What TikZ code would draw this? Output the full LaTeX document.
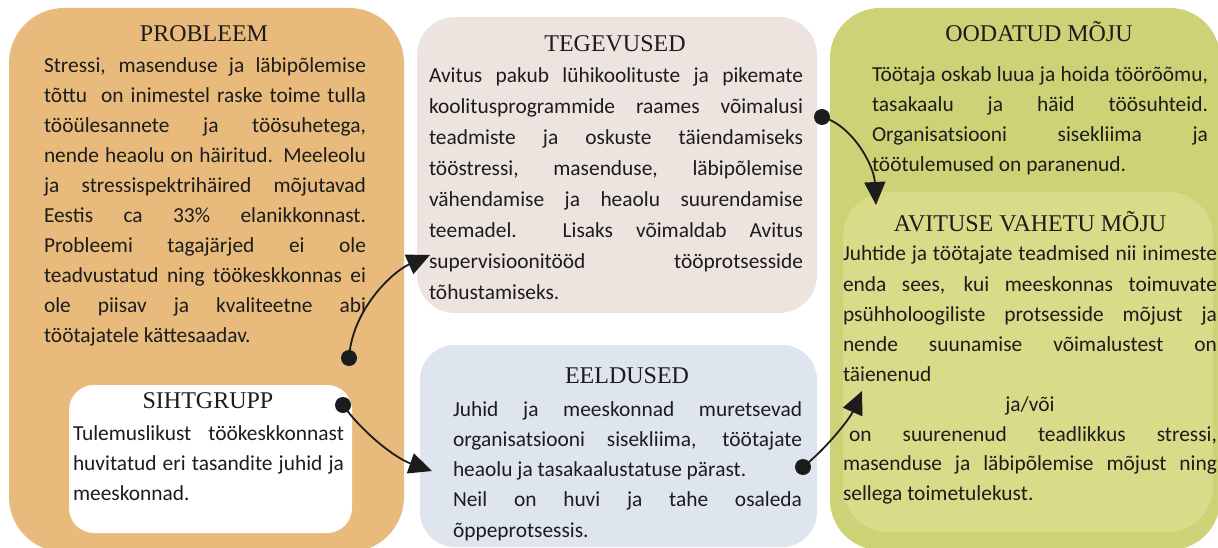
\documentclass[tikz,border=0pt]{standalone}
\usepackage{fontspec}
\setmainfont{Liberation Serif}
\newfontfamily\bodyfont{Carlito}
\usetikzlibrary{arrows.meta}
\definecolor{probc}{HTML}{E8BB7C}
\definecolor{tegc}{HTML}{EDE4E0}
\definecolor{eelc}{HTML}{DEE5EF}
\definecolor{oodc}{HTML}{CED276}
\definecolor{avic}{HTML}{D9DB89}
\definecolor{inkc}{HTML}{1C1C1C}
\newcommand\jline[1]{\hbox to\linewidth{#1}}
\newcommand\lline[1]{\hbox{#1}}
\newcommand\centline[1]{\hbox to\linewidth{\hfil#1\hfil}}
\newcommand\txtblock[3]{\parbox[t]{#1}{\bodyfont\fontsize{21.4}{#2}\selectfont#3}}
\begin{document}
\begin{tikzpicture}[x=1pt,y=-1pt,
  rbox/.style={draw=none, inner sep=0pt, outer sep=0pt},
  head/.style={inner sep=0pt, outer sep=0pt, anchor=base, text=inkc, font=\fontsize{24}{28}\selectfont},
  txt/.style={inner sep=0pt, outer sep=0pt, anchor=base west, text=inkc},
  dot/.style={circle, fill=inkc, minimum size=16pt, inner sep=0pt, outer sep=0pt},
  conn/.style={draw=inkc, line width=1.8pt, -{Triangle[length=23pt,width=21pt]}}]
\useasboundingbox (0,0) rectangle (1218,548);
% boxes
\node[rbox, fill=probc, minimum width=395pt, minimum height=544pt, rounded corners=55pt] (prob) at (206.5,280) {};
\node[rbox, fill=white, minimum width=283pt, minimum height=148pt, rounded corners=25pt] (siht) at (210.5,459) {};
\node[rbox, fill=tegc, minimum width=400pt, minimum height=296pt, rounded corners=38pt] (teg) at (617,165) {};
\node[rbox, fill=eelc, minimum width=397pt, minimum height=202pt, rounded corners=35pt] (eel) at (618.5,446) {};
\node[rbox, fill=oodc, minimum width=390pt, minimum height=542pt, rounded corners=50pt] (ood) at (1025,279) {};
\node[rbox, fill=avic, minimum width=370pt, minimum height=340pt, rounded corners=45pt] (avi) at (1028,362) {};
% headings
\node[head] (probh) at (204,42) {PROBLEEM};
\node[head] (sihth) at (208,408) {SIHTGRUPP};
\node[head] (tegh) at (615,52) {TEGEVUSED};
\node[head] (eelh) at (627,383) {EELDUSED};
\node[head] (oodh) at (1039,42) {OODATUD MÕJU};
\node[head] (avih) at (1030,232) {AVITUSE VAHETU MÕJU};
% texts
\node[txt] (probt) at (44,73) {\txtblock{322pt}{30pt}{%
\jline{Stressi, masenduse ja läbipõlemise}
\jline{tõttu\ \ on inimestel raske toime tulla}
\jline{tööülesannete ja töösuhetega,}
\jline{nende heaolu on häiritud. Meeleolu}
\jline{ja stressispektrihäired mõjutavad}
\jline{Eestis ca 33\% elanikkonnast.}
\jline{Probleemi tagajärjed ei ole}
\jline{teadvustatud ning töökeskkonnas ei}
\jline{ole piisav ja kvaliteetne abi}
\lline{töötajatele kättesaadav.}}};
\node[txt] (sihtt) at (73,440) {\txtblock{271pt}{30pt}{%
\jline{Tulemuslikust\ \ töökeskkonnast}
\jline{huvitatud eri tasandite juhid ja}
\lline{meeskonnad.}}};
\node[txt] (tegt) at (429,83) {\txtblock{374pt}{31pt}{%
\jline{Avitus pakub lühikoolituste ja pikemate}
\jline{koolitusprogrammide raames võimalusi}
\jline{teadmiste ja oskuste täiendamiseks}
\jline{tööstressi, masenduse, läbipõlemise}
\jline{vähendamise ja heaolu suurendamise}
\jline{teemadel.\ \ Lisaks võimaldab Avitus}
\jline{supervisioonitööd tööprotsesside}
\lline{tõhustamiseks.}}};
\node[txt] (eelt) at (453,416) {\txtblock{349pt}{30.3pt}{%
\jline{Juhid ja meeskonnad muretsevad}
\jline{organisatsiooni sisekliima, töötajate}
\lline{heaolu ja tasakaalustatuse pärast.}
\jline{Neil on huvi ja tahe osaleda}
\lline{õppeprotsessis.}}};
\node[txt] (oodt) at (872,82) {\txtblock{336pt}{30pt}{%
\jline{Töötaja oskab luua ja hoida töörõõmu,}
\jline{tasakaalu ja häid töösuhteid.}
\jline{Organisatsiooni sisekliima ja}
\lline{töötulemused on paranenud.}}};
\node[txt] (avit) at (843,261) {\txtblock{374pt}{30pt}{%
\jline{Juhtide ja töötajate teadmised nii inimeste}
\jline{enda sees, kui meeskonnas toimuvate}
\jline{psühholoogiliste protsesside mõjust ja}
\jline{nende suunamise võimalustest on}
\lline{täienenud}
\centline{ja/või}
\jline{\kern6pt on suurenenud teadlikkus stressi,}
\jline{masenduse ja läbipõlemise mõjust ning}
\lline{sellega toimetulekust.}}};
% connectors
\node[dot] (d1) at (349,358) {};
\node[dot] (d2) at (343,405) {};
\node[dot] (d3) at (803,467) {};
\node[dot] (d4) at (822,117) {};
\coordinate (t1) at (430,255);
\coordinate (t2) at (432,471);
\coordinate (t3) at (862,391);
\coordinate (t4) at (876,205);
\draw[conn] (d1.center) .. controls (352,310) and (392,272) .. (t1);
\draw[conn] (d2.center) .. controls (362,432) and (395,458) .. (t2);
\draw[conn] (d3.center) .. controls (828,447) and (850,418) .. (t3);
\draw[conn] (d4.center) .. controls (852,125) and (874,165) .. (t4);
\end{tikzpicture}
\end{document}
